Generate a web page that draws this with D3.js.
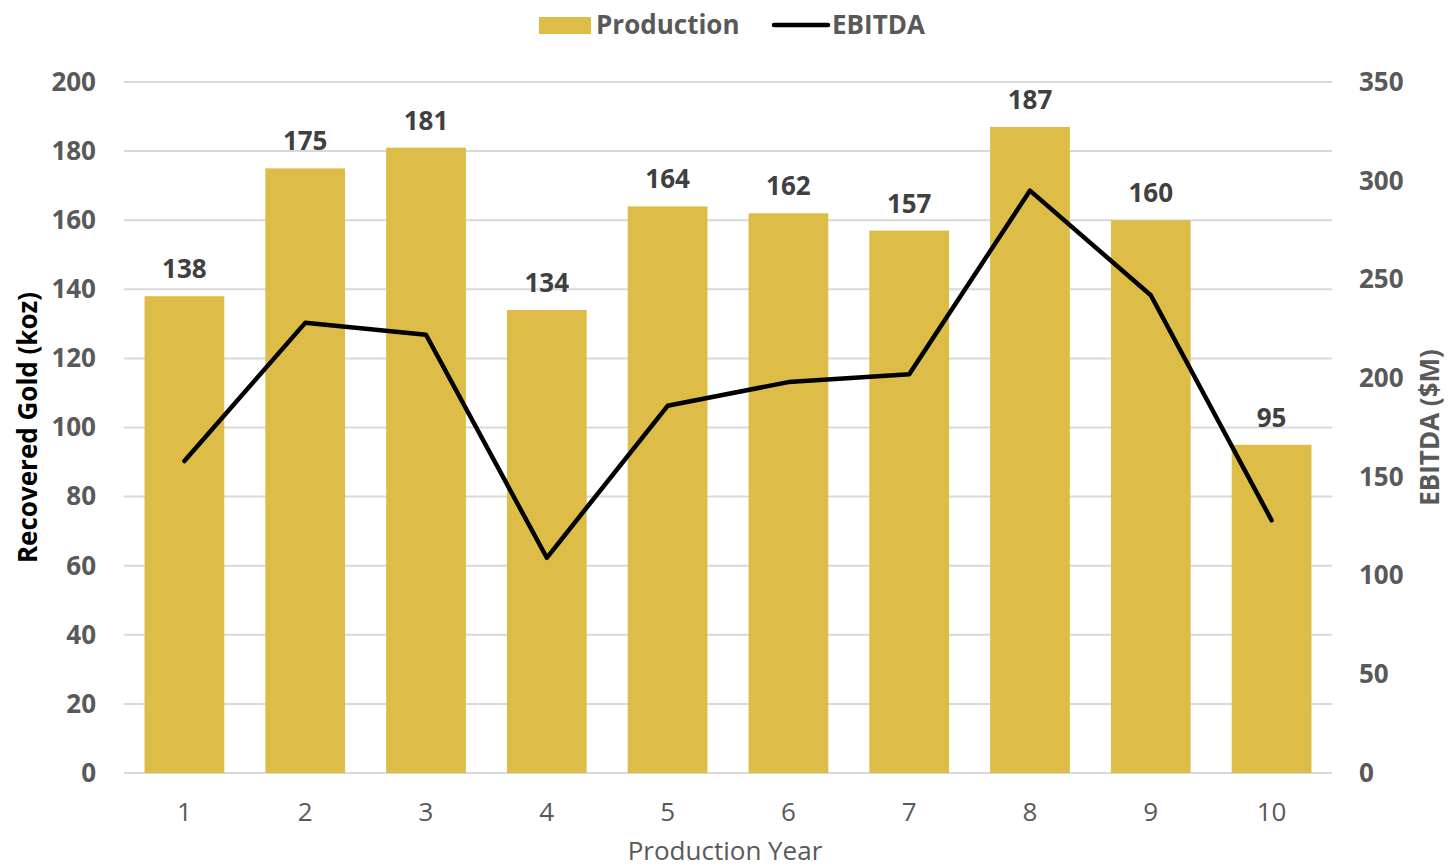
<!DOCTYPE html>
<html>
<head>
<meta charset="utf-8">
<script src="https://cdn.jsdelivr.net/npm/d3@7"></script>
<style>
  body { margin: 0; background: #fff; }
  svg { font-family: "Open Sans", sans-serif; }
</style>
</head>
<body>
<div id="chart"></div>
<script>
const years = ["1", "2", "3", "4", "5", "6", "7", "8", "9", "10"];
const production = [138, 175, 181, 134, 164, 162, 157, 187, 160, 95];
const ebitda = [158, 228, 222, 109, 186, 198, 202, 295, 242, 128];
const leftTicks = [0, 20, 40, 60, 80, 100, 120, 140, 160, 180, 200];
const rightTicks = [0, 50, 100, 150, 200, 250, 300, 350];

const W = 1448, H = 868;
const margin = { top: 82, right: 116, bottom: 95, left: 124 };
const width = W - margin.left - margin.right,
    height = H - margin.top - margin.bottom;

const svg = d3.select("#chart").append("svg")
    .attr("width", W)
    .attr("height", H);

const chart = svg.append("g")
    .attr("transform", `translate(${margin.left},${margin.top})`);

const x = d3.scaleBand()
    .domain(years)
    .range([0, width])
    .paddingInner(0.34)
    .paddingOuter(0.17);

const y = d3.scaleLinear().domain([0, 200]).range([height, 0]);
const y2 = d3.scaleLinear().domain([0, 350]).range([height, 0]);

// gridlines
chart.selectAll(".grid")
    .data(leftTicks)
    .enter()
    .append("line")
    .attr("x1", 0)
    .attr("x2", width)
    .attr("y1", d => y(d))
    .attr("y2", d => y(d))
    .attr("stroke", "#d9d9d9")
    .attr("stroke-width", 2);

// bars
chart.selectAll(".bar")
    .data(production)
    .enter()
    .append("rect")
    .attr("x", (d, i) => x(years[i]))
    .attr("y", d => y(d))
    .attr("width", x.bandwidth())
    .attr("height", d => height - y(d))
    .attr("fill", "#ddbd48");

// bar labels
chart.selectAll(".label")
    .data(production)
    .enter()
    .append("text")
    .attr("x", (d, i) => x(years[i]) + x.bandwidth() / 2)
    .attr("y", d => y(d) - 18)
    .attr("text-anchor", "middle")
    .attr("font-size", "26px")
    .attr("font-weight", "bold")
    .attr("fill", "#404040")
    .text(d => d);

// EBITDA line
const line = d3.line()
    .x((d, i) => x(years[i]) + x.bandwidth() / 2)
    .y(d => y2(d));

chart.append("path")
    .datum(ebitda)
    .attr("d", line)
    .attr("fill", "none")
    .attr("stroke", "#000")
    .attr("stroke-width", 4.5)
    .attr("stroke-linecap", "round")
    .attr("stroke-linejoin", "round");

// left axis
const yAxis = chart.append("g")
    .call(d3.axisLeft(y).tickValues(leftTicks).tickSize(0).tickPadding(28));
yAxis.select(".domain").remove();
yAxis.selectAll("text")
    .attr("font-size", "26px")
    .attr("font-weight", "bold")
    .attr("fill", "#595959")
    .attr("font-family", "Open Sans, sans-serif");

// right axis
const y2Axis = chart.append("g")
    .attr("transform", `translate(${width},0)`)
    .call(d3.axisRight(y2).tickValues(rightTicks).tickSize(0).tickPadding(27));
y2Axis.select(".domain").remove();
y2Axis.selectAll("text")
    .attr("font-size", "26px")
    .attr("font-weight", "bold")
    .attr("fill", "#595959")
    .attr("font-family", "Open Sans, sans-serif");

// x axis
const xAxis = chart.append("g")
    .attr("transform", `translate(0,${height})`)
    .call(d3.axisBottom(x).tickSize(0).tickPadding(30));
xAxis.select(".domain").remove();
xAxis.selectAll("text")
    .attr("font-size", "26px")
    .attr("fill", "#595959")
    .attr("font-family", "Open Sans, sans-serif");

// axis titles
svg.append("text")
    .attr("transform", `translate(37,${margin.top + height / 2}) rotate(-90)`)
    .attr("text-anchor", "middle")
    .attr("font-size", "26px")
    .attr("font-weight", "bold")
    .attr("fill", "#000")
    .text("Recovered Gold (koz)");

svg.append("text")
    .attr("transform", `translate(1439,${margin.top + height / 2}) rotate(-90)`)
    .attr("text-anchor", "middle")
    .attr("font-size", "26px")
    .attr("font-weight", "bold")
    .attr("fill", "#595959")
    .text("EBITDA ($M)");

svg.append("text")
    .attr("x", margin.left + width / 2 - 3)
    .attr("y", 860)
    .attr("text-anchor", "middle")
    .attr("font-size", "26px")
    .attr("fill", "#595959")
    .text("Production Year");

// legend
const legend = svg.append("g");
legend.append("rect")
    .attr("x", 539).attr("y", 17)
    .attr("width", 52).attr("height", 17)
    .attr("fill", "#ddbd48");
legend.append("text")
    .attr("x", 596).attr("y", 34)
    .attr("font-size", "26px")
    .attr("font-weight", "bold")
    .attr("fill", "#595959")
    .text("Production");
legend.append("line")
    .attr("x1", 774).attr("x2", 828)
    .attr("y1", 25).attr("y2", 25)
    .attr("stroke", "#000")
    .attr("stroke-width", 4.5)
    .attr("stroke-linecap", "round");
legend.append("text")
    .attr("x", 832).attr("y", 34)
    .attr("font-size", "26px")
    .attr("font-weight", "bold")
    .attr("fill", "#595959")
    .text("EBITDA");
</script>
</body>
</html>
